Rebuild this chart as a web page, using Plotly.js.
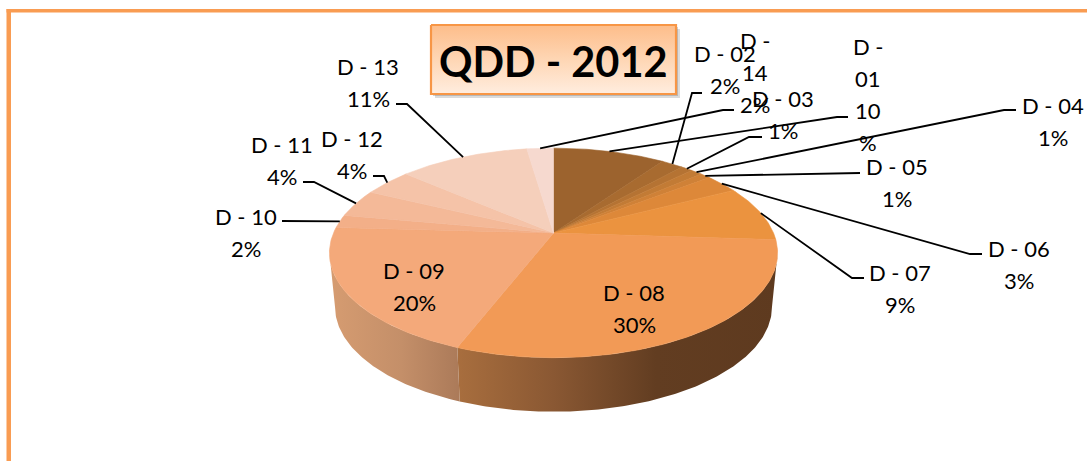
<!DOCTYPE html>
<html>
<head>
<meta charset="utf-8">
<script src="https://cdn.plot.ly/plotly-3.0.1.min.js"></script>
<style>html,body{margin:0;padding:0;background:#fff}#chart{width:1087px;height:461px}</style>
</head>
<body>
<div id="chart"></div>
<script>
// ---------- data ----------
const names = ["D - 01","D - 02","D - 03","D - 04","D - 05","D - 06","D - 07","D - 08","D - 09","D - 10","D - 11","D - 12","D - 13","D - 14"];
const shares = [9.7,1.9,1.0,1.0,0.9,2.9,8.6,29.8,20.0,2.0,4.3,4.2,11.3,2.3];
const chartTitle = "QDD - 2012";

// ---------- styles ----------
const sliceColors = ["#9C632E","#A86B30","#B57333","#C27B35","#CF8137","#DD8839","#EB933F","#F29A56","#F4A97A","#F3AF88","#F4B998","#F5C3A8","#F5CFBB","#F6D9CF"];
const wallStyles = {
  7: [[0,"#A86E3E"],[0.3,"#8A5833"],[0.62,"#623D21"],[1,"#5E3A1F"]],
  8: [[0,"#D69C71"],[0.55,"#C48F69"],[1,"#AB7A59"]]
};
const fontFamily = "Lato, 'Open Sans', sans-serif";
const labelSize = 22;
const lineGap = 32;

// ---------- projection of the tilted disc (axis units equal page pixels) ----------
const apex = {x:553.5, y:233};
const persp = 0.19, depthA = 101, widthB = 220, wallDrop = 54, wallNarrow = 0.975;
function rim(theta, lower){
  const w = 1 + persp*Math.cos(theta);
  let dx = widthB*Math.sin(theta)/w;
  const dy = -depthA*Math.cos(theta)/w;
  if(lower) dx *= wallNarrow;
  return [apex.x+dx, apex.y+dy+(lower?wallDrop:0)];
}
const total = shares.reduce((a,b)=>a+b,0);
let cum = 0;
const bounds = shares.map(v=>{const a=cum/total*2*Math.PI; cum+=v; return [a,cum/total*2*Math.PI];});
const mid = i => (bounds[i][0]+bounds[i][1])/2;
function arc(a,b,lower){
  const n = Math.max(2,Math.ceil((b-a)/0.012)), pts=[];
  for(let k=0;k<=n;k++) pts.push(rim(a+(b-a)*k/n,lower));
  return pts;
}
const traces = [];
function addPoly(pts,extra){
  traces.push(Object.assign({type:"scatter",x:pts.map(p=>p[0]),y:pts.map(p=>p[1]),mode:"lines",fill:"toself",
    hoverinfo:"skip",showlegend:false},extra));
}
// side wall
const wallFrom = Math.acos(-persp), wallTo = 2*Math.PI-wallFrom;
shares.forEach((v,i)=>{
  const a=Math.max(bounds[i][0],wallFrom), b=Math.min(bounds[i][1],wallTo);
  if(b<=a) return;
  const pts = arc(a,b,false).concat(arc(a,b,true).reverse());
  pts.push(pts[0]);
  const stops = wallStyles[i];
  addPoly(pts, stops ? {line:{width:0},fillcolor:stops[0][1],fillgradient:{type:"horizontal",colorscale:stops}}
                     : {line:{width:0},fillcolor:"#5E3A1F"});
});
// top faces
shares.forEach((v,i)=>{
  const pts = [[apex.x,apex.y]].concat(arc(bounds[i][0],bounds[i][1],false));
  pts.push([apex.x,apex.y]);
  addPoly(pts,{line:{width:0.6,color:sliceColors[i]},fillcolor:sliceColors[i]});
});

// ---------- leader lines: from each slice's rim to its label elbow ----------
const leaders = {
  0:[[837,117],[848,117]], 1:[[692,93],[702,93]], 2:[[749,137],[762,137]], 3:[[1004,110],[1016,110]],
  4:[[860,173]], 5:[[970,254],[982,254]], 6:[[852,278],[864,278]], 9:[[282,221]],
  10:[[314,182],[303,182]], 11:[[384,176],[373,176]], 12:[[407,104],[396,104]], 13:[[723,110],[734,110]]
};
Object.keys(leaders).forEach(k=>{
  const pts=[rim(mid(+k),false)].concat(leaders[k]);
  traces.push({type:"scatter",x:pts.map(p=>p[0]),y:pts.map(p=>p[1]),mode:"lines",
    line:{color:"#000",width:1.8},hoverinfo:"skip",showlegend:false});
});

// ---------- title box ----------
const box = {x0:431,x1:676,y0:25,y1:94};
function rectPts(x0,y0,x1,y1){return [[x0,y0],[x1,y0],[x1,y1],[x0,y1],[x0,y0]];}
addPoly(rectPts(box.x0+4,box.y0+4,box.x1+4,box.y1+4),{line:{width:0},fillcolor:"rgba(90,90,90,0.22)"});
addPoly(rectPts(box.x0+2,box.y0+2,box.x1+2,box.y1+2),{line:{width:0},fillcolor:"rgba(90,90,90,0.28)"});
addPoly(rectPts(box.x0,box.y0,box.x1,box.y1),{line:{width:2.2,color:"#F79646"},fillcolor:"#FEDDC2",
  fillgradient:{type:"vertical",colorscale:[[0,"#FFEDDF"],[0.5,"#FED6B4"],[1,"#FDBD8A"]]}});

// ---------- labels ----------
const labelSpots = [[868,46],[725,53],[783,98],[1053,105],[897,166],[1019,248],[900,272],[634,292],[414,270],[246,216],[282,144],[352,138],[368,66],[755,40]];
const wrapped = {0:["D -","01","10","%"],13:["D -","14","2%"]};
const annotations = [];
names.forEach((n,i)=>{
  const lines = wrapped[i] || [n, Math.round(shares[i])+"%"];
  lines.forEach((t,j)=>annotations.push({x:labelSpots[i][0],y:labelSpots[i][1]+j*lineGap,text:t,showarrow:false,
    xanchor:"center",yanchor:"middle",font:{family:fontFamily,size:labelSize,color:"#000"}}));
});
annotations.push({x:(box.x0+box.x1)/2,y:(box.y0+box.y1)/2+1,text:"<b>"+chartTitle+"</b>",showarrow:false,
  xanchor:"center",yanchor:"middle",font:{family:fontFamily,size:41.5,color:"#000"}});

const layout = {
  width:1087,height:461,margin:{l:0,r:0,t:0,b:0},paper_bgcolor:"#fff",plot_bgcolor:"#fff",showlegend:false,
  xaxis:{range:[0,1087],visible:false,fixedrange:true},
  yaxis:{range:[461,0],visible:false,fixedrange:true},
  annotations,
  shapes:[
    {type:"rect",xref:"x",yref:"y",x0:6.5,x1:1087,y0:9,y1:12.5,fillcolor:"#F99C52",line:{width:0},layer:"below"},
    {type:"rect",xref:"x",yref:"y",x0:6.5,x1:11,y0:9,y1:461,fillcolor:"#F99C52",line:{width:0},layer:"below"}
  ]
};
Plotly.newPlot("chart",traces,layout,{staticPlot:true,displayModeBar:false});
</script>
</body>
</html>
